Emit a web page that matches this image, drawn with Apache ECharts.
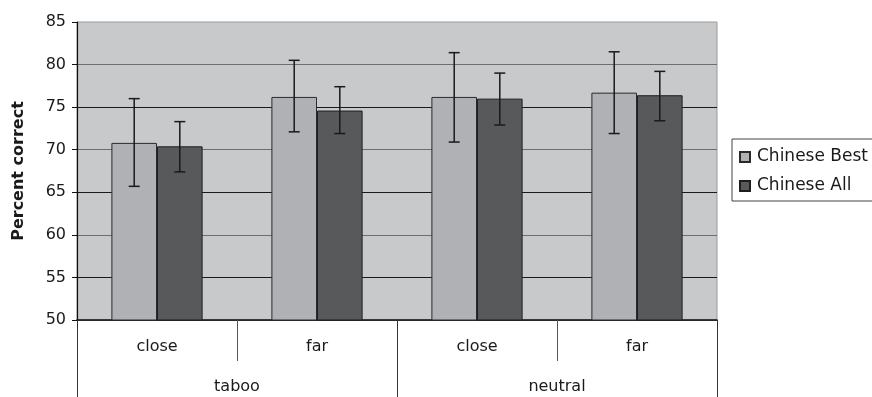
<!DOCTYPE html>
<html>
<head>
<meta charset="utf-8">
<script src="https://cdn.jsdelivr.net/npm/echarts@6/dist/echarts.min.js"></script>
<style>
html,body{margin:0;padding:0;background:#fff;}
#chart{width:872px;height:397px;}
</style>
</head>
<body>
<div id="chart"></div>
<script>
const categories = ['close', 'far', 'close', 'far'];
const groups = ['taboo', 'neutral'];
const seriesNames = ['Chinese Best', 'Chinese All'];
const bestValues = [70.8, 76.2, 76.2, 76.7];
const allValues = [70.4, 74.6, 76.0, 76.4];
const bestLow = [65.7, 72.1, 70.9, 71.9];
const bestHigh = [76.0, 80.5, 81.4, 81.5];
const allLow = [67.4, 71.9, 72.9, 73.4];
const allHigh = [73.3, 77.4, 79.0, 79.2];
const yMin = 50, yMax = 85, yStep = 5;

const FONT = 'DejaVu Sans';
const GAP = 0.43;

function errRender(sign) {
  return function (params, api) {
    const x = api.value(0);
    const lo = api.coord([x, api.value(1)]);
    const hi = api.coord([x, api.value(2)]);
    const w = api.size([1, 0])[0];
    const bw = w * (1 - GAP) / 2;
    const cx = lo[0] + sign * bw / 2;
    const cap = 5.5;
    const st = { stroke: '#1a1a1a', lineWidth: 1.5 };
    return {
      type: 'group',
      children: [
        { type: 'line', shape: { x1: cx, y1: lo[1], x2: cx, y2: hi[1] }, style: st },
        { type: 'line', shape: { x1: cx - cap, y1: hi[1], x2: cx + cap, y2: hi[1] }, style: st },
        { type: 'line', shape: { x1: cx - cap, y1: lo[1], x2: cx + cap, y2: lo[1] }, style: st }
      ]
    };
  };
}

const chart = echarts.init(document.getElementById('chart'));
chart.setOption({
  animation: false,
  textStyle: { fontFamily: FONT },
  grid: {
    left: 77, right: 155, top: 22, bottom: 77,
    show: true, backgroundColor: '#c8c9cb', borderColor: '#9a9a9a', borderWidth: 1
  },
  legend: {
    orient: 'vertical',
    left: 732, top: 139,
    padding: [9, 40, 6, 7],
    itemGap: 11,
    itemWidth: 10, itemHeight: 10,
    icon: 'rect',
    borderColor: '#444', borderWidth: 1,
    textStyle: { fontFamily: FONT, fontSize: 17, color: '#1a1a1a', lineHeight: 18, padding: [0, 0, 0, 2] },
    data: seriesNames
  },
  xAxis: [
    {
      type: 'category', data: categories, position: 'bottom',
      axisLine: { show: true, lineStyle: { color: '#111', width: 1.5 } },
      axisTick: { show: true, length: 41, interval: 0, lineStyle: { color: '#555', width: 1 } },
      axisLabel: { margin: 19, fontSize: 16, color: '#1a1a1a', fontFamily: FONT, interval: 0 }
    },
    {
      type: 'category', data: groups, position: 'bottom', offset: 0,
      axisLine: { show: false },
      axisTick: { show: true, length: 77, interval: 0, lineStyle: { color: '#333', width: 1 } },
      axisLabel: { margin: 59, fontSize: 16, color: '#1a1a1a', fontFamily: FONT, interval: 0 }
    }
  ],
  yAxis: {
    type: 'value', min: yMin, max: yMax, interval: yStep,
    name: 'Percent correct', nameLocation: 'middle', nameGap: 50,
    nameTextStyle: { fontFamily: FONT, fontSize: 16, fontWeight: 'bold', color: '#1a1a1a' },
    axisLine: { show: true, lineStyle: { color: '#111', width: 1.2 } },
    axisTick: { show: true, length: 5, lineStyle: { color: '#111' } },
    axisLabel: { margin: 11, fontSize: 16, color: '#1a1a1a', fontFamily: FONT },
    splitLine: { show: true, showMaxLine: false, lineStyle: { color: ['#6e6e6e', '#1a1a1a'], width: 1.2 } }
  },
  series: [
    {
      name: seriesNames[0], type: 'bar', data: bestValues,
      barGap: '0%', barCategoryGap: (GAP * 100) + '%',
      itemStyle: { color: '#b0b1b4', borderColor: '#2a2a2a', borderWidth: 1 }
    },
    {
      name: seriesNames[1], type: 'bar', data: allValues,
      barGap: '0%', barCategoryGap: (GAP * 100) + '%',
      itemStyle: { color: '#58595b', borderColor: '#1e1e1e', borderWidth: 1 }
    },
    {
      type: 'custom', renderItem: errRender(-1), z: 5,
      data: categories.map((c, i) => [i, bestLow[i], bestHigh[i]]),
      encode: { x: 0, y: [1, 2] }, silent: true
    },
    {
      type: 'custom', renderItem: errRender(1), z: 5,
      data: categories.map((c, i) => [i, allLow[i], allHigh[i]]),
      encode: { x: 0, y: [1, 2] }, silent: true
    }
  ]
});
</script>
</body>
</html>
